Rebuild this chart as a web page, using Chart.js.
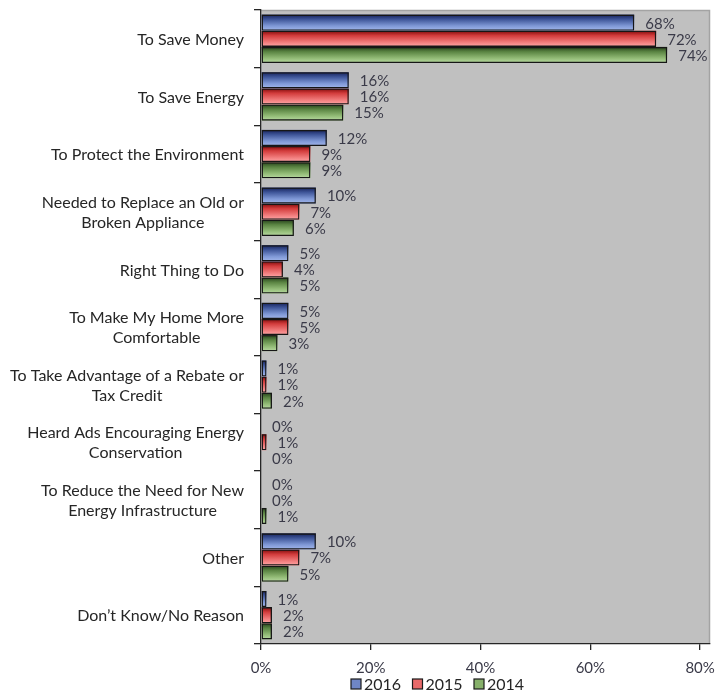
<!DOCTYPE html>
<html>
<head>
<meta charset="utf-8">
<script src="https://cdn.jsdelivr.net/npm/chart.js@4.4.1/dist/chart.umd.min.js"></script>
<style>
  html, body { margin: 0; padding: 0; background: #ffffff; }
  #wrap { width: 717px; height: 692px; }
</style>
</head>
<body>
<div id="wrap"><canvas id="chart" width="717" height="692"></canvas></div>
<script>
// Reasons given for saving energy, share of respondents by survey year
const categories = [
  'To Save Money',
  'To Save Energy',
  'To Protect the Environment',
  ['Needed to Replace an Old or', 'Broken Appliance'],
  'Right Thing to Do',
  ['To Make My Home More', 'Comfortable'],
  ['To Take Advantage of a Rebate or', 'Tax Credit'],
  ['Heard Ads Encouraging Energy', 'Conservation'],
  ['To Reduce the Need for New', 'Energy Infrastructure'],
  'Other',
  'Don\u2019t Know/No Reason'
];
const years = ['2016', '2015', '2014'];
const values2016 = [68, 16, 12, 10, 5, 5, 1, 0, 0, 10, 1];
const values2015 = [72, 16, 9, 7, 4, 5, 1, 1, 0, 7, 2];
const values2014 = [74, 15, 9, 6, 5, 3, 2, 0, 1, 5, 2];
const xTicks = [0, 20, 40, 60, 80];

// shading stops (top -> bottom) and legend swatch colour for each series
const shades = [
  { stops: ['#15215a', '#3f5699', '#7f98d6', '#a4b8ec'], swatch: '#6f86c6' },
  { stops: ['#7e0a0a', '#d33c3c', '#f07a7a', '#ffa8a8'], swatch: '#e86a6a' },
  { stops: ['#25401a', '#5a8442', '#92bb76', '#b9daa2'], swatch: '#86b06a' }
];

const FONT = 'Lato, "Liberation Sans", sans-serif';
const TEXT = '#262626';

const plotBackground = {
  id: 'plotBackground',
  beforeDraw(chart) {
    const { ctx, chartArea: a } = chart;
    ctx.save();
    ctx.fillStyle = '#c0c0c0';
    ctx.fillRect(a.left, a.top, a.right - a.left, a.bottom - a.top);
    ctx.strokeStyle = '#a3a3a3';
    ctx.lineWidth = 1.5;
    ctx.beginPath();
    ctx.moveTo(a.left, a.top + 0.5);
    ctx.lineTo(a.right - 0.5, a.top + 0.5);
    ctx.lineTo(a.right - 0.5, a.bottom);
    ctx.stroke();
    ctx.restore();
  }
};

// vertical shading inside every bar, painted before the library draws the outlines
const barShading = {
  id: 'barShading',
  beforeDatasetDraw(chart, args) {
    const { ctx } = chart;
    const meta = args.meta;
    const s = shades[args.index].stops;
    ctx.save();
    meta.data.forEach(bar => {
      const p = bar.getProps(['x', 'y', 'base', 'height'], true);
      const w = p.x - p.base;
      if (w <= 0) return;
      const top = p.y - p.height / 2;
      const g = ctx.createLinearGradient(0, top, 0, top + p.height);
      g.addColorStop(0, s[0]);
      g.addColorStop(0.3, s[1]);
      g.addColorStop(0.7, s[2]);
      g.addColorStop(1, s[3]);
      ctx.fillStyle = g;
      ctx.fillRect(p.base, top, w, p.height);
    });
    ctx.restore();
  }
};

const valueLabels = {
  id: 'valueLabels',
  afterDatasetsDraw(chart) {
    const { ctx } = chart;
    ctx.save();
    ctx.font = '15px ' + FONT;
    ctx.fillStyle = '#3a3a48';
    ctx.textAlign = 'left';
    ctx.textBaseline = 'middle';
    chart.data.datasets.forEach((ds, i) => {
      const meta = chart.getDatasetMeta(i);
      meta.data.forEach((bar, j) => {
        const p = bar.getProps(['x', 'y'], true);
        ctx.fillText(ds.data[j] + '%', p.x + 11, p.y + 1);
      });
    });
    ctx.restore();
  }
};

// category labels: block right-aligned to the axis, lines centred within the block
const categoryLabels = {
  id: 'categoryLabels',
  afterDraw(chart) {
    const { ctx } = chart;
    const yScale = chart.scales.y;
    const right = yScale.right - 17;
    const lineGap = 20;
    ctx.save();
    ctx.font = '16px ' + FONT;
    ctx.fillStyle = TEXT;
    ctx.textAlign = 'center';
    ctx.textBaseline = 'middle';
    chart.data.labels.forEach((lab, i) => {
      const lines = Array.isArray(lab) ? lab : [lab];
      const blockW = Math.max(...lines.map(l => ctx.measureText(l).width));
      const cx = right - blockW / 2;
      const cy = yScale.getPixelForValue(i) + 1;
      lines.forEach((l, k) => {
        ctx.fillText(l, cx, cy + (k - (lines.length - 1) / 2) * lineGap);
      });
    });
    ctx.restore();
  }
};

const bottomLegend = {
  id: 'bottomLegend',
  afterDraw(chart) {
    const { ctx } = chart;
    ctx.save();
    ctx.font = '16px ' + FONT;
    ctx.textBaseline = 'middle';
    ctx.textAlign = 'left';
    const cy = 684;
    chart.data.datasets.forEach((ds, i) => {
      const x = 351 + i * 61.5;
      ctx.fillStyle = shades[i].swatch;
      ctx.fillRect(x, cy - 5, 10, 10);
      ctx.strokeStyle = '#1a1a1a';
      ctx.lineWidth = 1.2;
      ctx.strokeRect(x, cy - 5, 10, 10);
      ctx.fillStyle = TEXT;
      ctx.fillText(ds.label, x + 13, cy + 1);
    });
    ctx.restore();
  }
};

const seriesValues = [values2016, values2015, values2014];

new Chart(document.getElementById('chart'), {
  type: 'bar',
  data: {
    labels: categories,
    datasets: years.map((y, i) => ({
      label: y,
      data: seriesValues[i],
      backgroundColor: 'rgba(0,0,0,0)',
      borderColor: '#161616',
      borderWidth: 1.3,
      borderSkipped: false,
      categoryPercentage: 0.84,
      barPercentage: 1.0
    }))
  },
  options: {
    indexAxis: 'y',
    responsive: false,
    animation: false,
    devicePixelRatio: 1,
    layout: { padding: { top: 10, right: 7, left: 0, bottom: 16 } },
    plugins: {
      legend: { display: false },
      tooltip: { enabled: false }
    },
    scales: {
      x: {
        type: 'linear',
        min: 0,
        max: 81.8,
        afterBuildTicks(axis) { axis.ticks = xTicks.map(v => ({ value: v })); },
        afterFit(axis) {
          axis.height = 32;
          axis.paddingLeft = 0;
          axis.paddingRight = 0;
        },
        grid: { drawOnChartArea: false, drawTicks: true, tickLength: 6, color: '#262626', lineWidth: 1.3 },
        border: { display: true, color: '#262626', width: 1.3 },
        ticks: {
          padding: 9,
          font: { family: FONT, size: 15 },
          color: '#3a3a48',
          callback: v => v + '%'
        }
      },
      y: {
        type: 'category',
        afterFit(axis) {
          axis.width = 261;
          axis.paddingTop = 0;
          axis.paddingBottom = 0;
        },
        grid: { offset: true, drawOnChartArea: false, drawTicks: true, tickLength: 7, color: '#262626', lineWidth: 1.3 },
        border: { display: true, color: '#262626', width: 1.3 },
        ticks: { display: false }
      }
    }
  },
  plugins: [plotBackground, barShading, valueLabels, categoryLabels, bottomLegend]
});
</script>
</body>
</html>
